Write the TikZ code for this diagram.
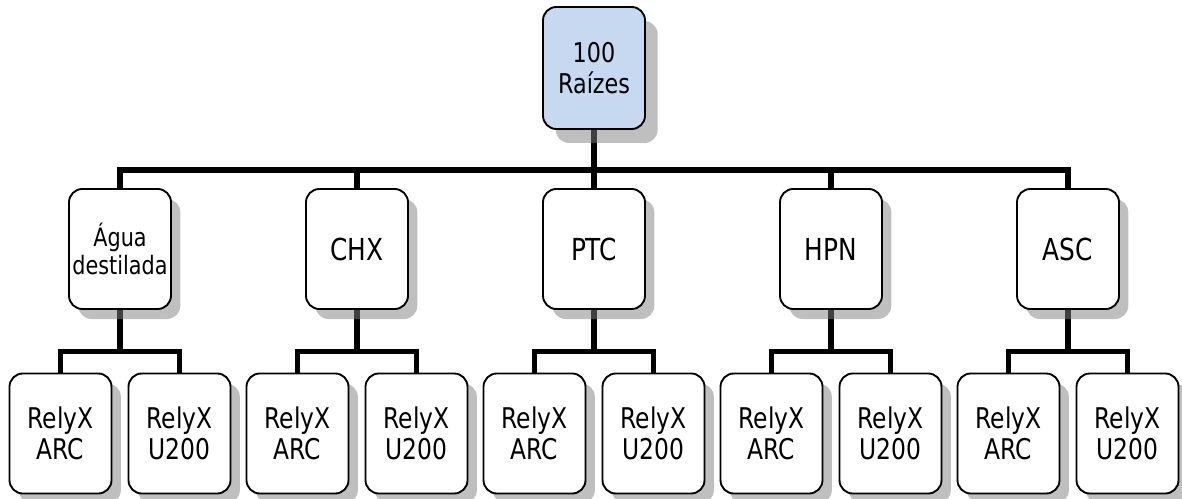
\documentclass[tikz,border=0pt]{standalone}
\usepackage{fontspec}
\setmainfont[FakeStretch=0.82]{DejaVu Sans}
\usetikzlibrary{backgrounds,shadows}
\definecolor{azulclaro}{HTML}{C6D9F1}

\tikzset{
  caixa/.style={draw,rounded corners=10pt,line width=1.4pt,align=center,fill=white,
    minimum width=76.5pt,minimum height=90pt,inner sep=2pt,
    font=\fontsize{21.4}{23}\selectfont},
  sombra/.style={drop shadow={shadow xshift=7pt,shadow yshift=-7.5pt}},
  ligacao/.style={line width=3.8pt}
}

\begin{document}
\begin{tikzpicture}[x=0.75pt,y=-0.75pt]
        \useasboundingbox (0,0) rectangle (1182,499);
        % raiz
        \node[caixa,fill=azulclaro,minimum height=91.5pt,font=\fontsize{20.4}{23}\selectfont,
              drop shadow={shadow xshift=9.5pt,shadow yshift=-10.5pt}] (raiz) at (594,68) {100\\Raízes};
        % tratamentos
        \node[caixa,sombra,font=\fontsize{19}{20}\selectfont] (g1) at (120,249) {Água\\[1pt]destilada};
        \foreach \trat [count=\i from 2] in {CHX,PTC,HPN,ASC}
            \node[caixa,sombra,font=\fontsize{22.7}{24}\selectfont] (g\i) at (120+237*\i-237,249) {\trat};
        % cimentos
        \foreach \i in {1,...,5}{
            \node[caixa,sombra] (a\i) at (60.5+237*\i-237,433.5) {RelyX\\ARC};
            \node[caixa,sombra] (b\i) at (179.5+237*\i-237,433.5) {RelyX\\U200};
        }
        \coordinate (barra) at (594,170);
        \begin{scope}[on background layer]
            \foreach \i in {1,...,5}{
                \draw[ligacao] (raiz.south) |- (g\i.north |- barra) -- (g\i.north);
                \draw[ligacao] (g\i.south) -- ++(0,44);
                \draw[ligacao] (a\i.north) -- ++(0,-21) -| (b\i.north);
            }
        \end{scope}
\end{tikzpicture}
\end{document}
